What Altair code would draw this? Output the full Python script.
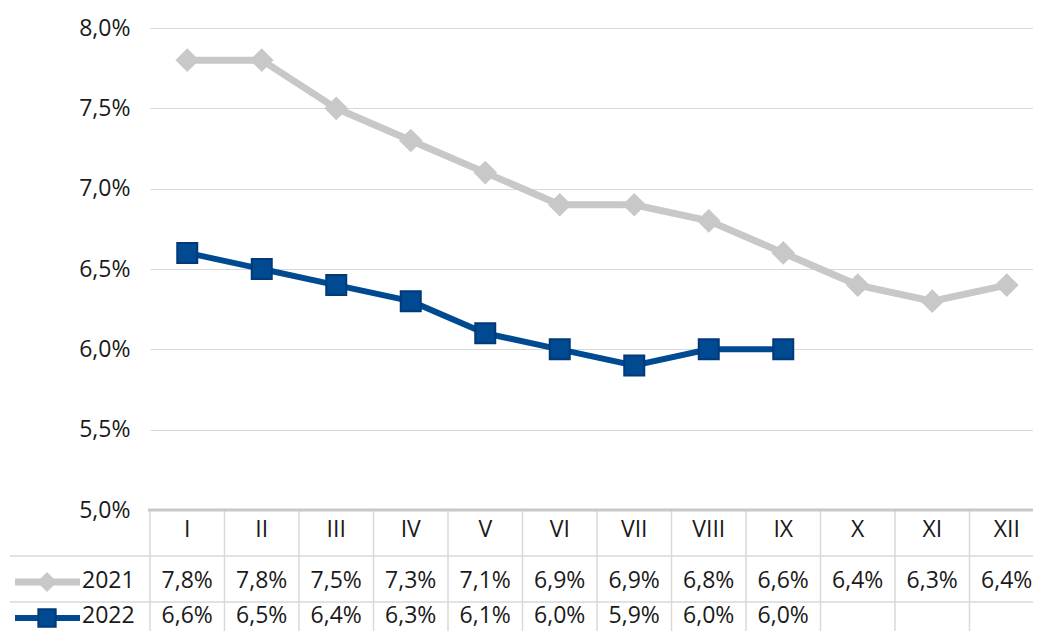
import altair as alt
import pandas as pd

months = ["I", "II", "III", "IV", "V", "VI", "VII", "VIII", "IX", "X", "XI", "XII"]
rate_2021 = [7.8, 7.8, 7.5, 7.3, 7.1, 6.9, 6.9, 6.8, 6.6, 6.4, 6.3, 6.4]
rate_2022 = [6.6, 6.5, 6.4, 6.3, 6.1, 6.0, 5.9, 6.0, 6.0]
series = ["2021", "2022"]
y_ticks = [5.0, 5.5, 6.0, 6.5, 7.0, 7.5, 8.0]

GRAY = "#c8c8c8"
BLUE = "#004a91"
BLUE_DARK = "#003a78"
GRID = "#d9d9d9"
TXT = "#1a1a1a"
FONT = "Open Sans"

W, H = 883, 482
COL = 74.5
x_dom = [0.5, 0.5 + W / COL]


def fmt(v):
    return f"{v:.1f}%".replace(".", ",")


rows = []
for name, vals in zip(series, [rate_2021, rate_2022]):
    for i, v in enumerate(vals):
        rows.append({"idx": i + 1, "month": months[i], "series": name,
                     "rate": v / 100, "label": fmt(v)})
df = pd.DataFrame(rows)
df_months = pd.DataFrame({"idx": list(range(1, len(months) + 1)), "month": months})
df_bounds = pd.DataFrame({"idx": [k + 0.5 for k in range(len(months) + 1)]})
one = pd.DataFrame({"k": [0]})

xs = alt.Scale(domain=x_dom, nice=False, zero=False)
x = alt.X("idx:Q", scale=xs, axis=None)
y = alt.Y("rate:Q",
          scale=alt.Scale(domain=[0.05, 0.08], nice=False, zero=False),
          axis=alt.Axis(values=[t / 100 for t in y_ticks],
                        labelExpr="replace(format(datum.value, '.1%'), '.', ',')",
                        grid=True, gridColor=GRID, gridWidth=1,
                        domain=False, ticks=False, labelPadding=20,
                        labelFontSize=23, labelColor=TXT, labelFont=FONT,
                        title=None))

base = alt.Chart(df)
d21 = base.transform_filter(alt.datum.series == "2021")
d22 = base.transform_filter(alt.datum.series == "2022")

line21 = d21.mark_line(strokeWidth=7, color=GRAY).encode(x=x, y=y)
pts21 = d21.mark_point(shape="diamond", filled=True, size=560, color=GRAY, opacity=1).encode(x=x, y=y)
line22 = d22.mark_line(strokeWidth=6, color=BLUE).encode(x=x, y=y)
pts22 = d22.mark_square(size=400, fill=BLUE, stroke=BLUE_DARK, strokeWidth=2, opacity=1).encode(x=x, y=y)

# table
axis_line = alt.Chart(one).mark_rule(color=GRAY, strokeWidth=3).encode(
    x=alt.value(-2), x2=alt.value(W), y=alt.value(H))
vlines = alt.Chart(df_bounds).mark_rule(color=GRID, strokeWidth=1.5).encode(
    x=x, y=alt.value(H + 1), y2=alt.value(H + 140))
hl1 = alt.Chart(one).mark_rule(color=GRID, strokeWidth=1.5).encode(
    x=alt.value(-140), x2=alt.value(W), y=alt.value(528))
hl2 = alt.Chart(one).mark_rule(color=GRID, strokeWidth=1.5).encode(
    x=alt.value(-140), x2=alt.value(W), y=alt.value(574))

header = alt.Chart(df_months).mark_text(fontSize=23, font=FONT, color=TXT, baseline="middle").encode(
    x=x, y=alt.value(502), text="month:N")
row21 = d21.mark_text(fontSize=23, font=FONT, color=TXT, baseline="middle").encode(
    x=x, y=alt.value(553), text="label:N")
row22 = d22.mark_text(fontSize=23, font=FONT, color=TXT, baseline="middle").encode(
    x=x, y=alt.value(588), text="label:N")

key21_line = alt.Chart(one).mark_rule(color=GRAY, strokeWidth=7).encode(
    x=alt.value(-135), x2=alt.value(-70), y=alt.value(554))
key21_pt = alt.Chart(one).mark_point(shape="diamond", filled=True, size=400, color=GRAY, opacity=1).encode(
    x=alt.value(-103), y=alt.value(554))
key22_line = alt.Chart(one).mark_rule(color=BLUE, strokeWidth=6).encode(
    x=alt.value(-135), x2=alt.value(-70), y=alt.value(590))
key22_pt = alt.Chart(one).mark_square(size=300, fill=BLUE, stroke=BLUE_DARK, strokeWidth=2, opacity=1).encode(
    x=alt.value(-103), y=alt.value(590))
key21_txt = alt.Chart(one).mark_text(fontSize=23, font=FONT, color=TXT, align="left",
                                     baseline="middle", text=series[0]).encode(
    x=alt.value(-68), y=alt.value(553))
key22_txt = alt.Chart(one).mark_text(fontSize=23, font=FONT, color=TXT, align="left",
                                     baseline="middle", text=series[1]).encode(
    x=alt.value(-68), y=alt.value(588))

chart = alt.layer(
    line21, pts21, line22, pts22,
    vlines, hl1, hl2, axis_line,
    header, row21, row22,
    key21_line, key21_pt, key22_line, key22_pt, key21_txt, key22_txt,
).properties(
    width=W, height=H,
    autosize=alt.AutoSizeParams(type="none"),
    padding={"left": 142, "top": 20, "right": 0, "bottom": 121},
).configure_view(strokeWidth=0)

chart.save("out.html", embed_options={"renderer": "svg", "actions": False})
